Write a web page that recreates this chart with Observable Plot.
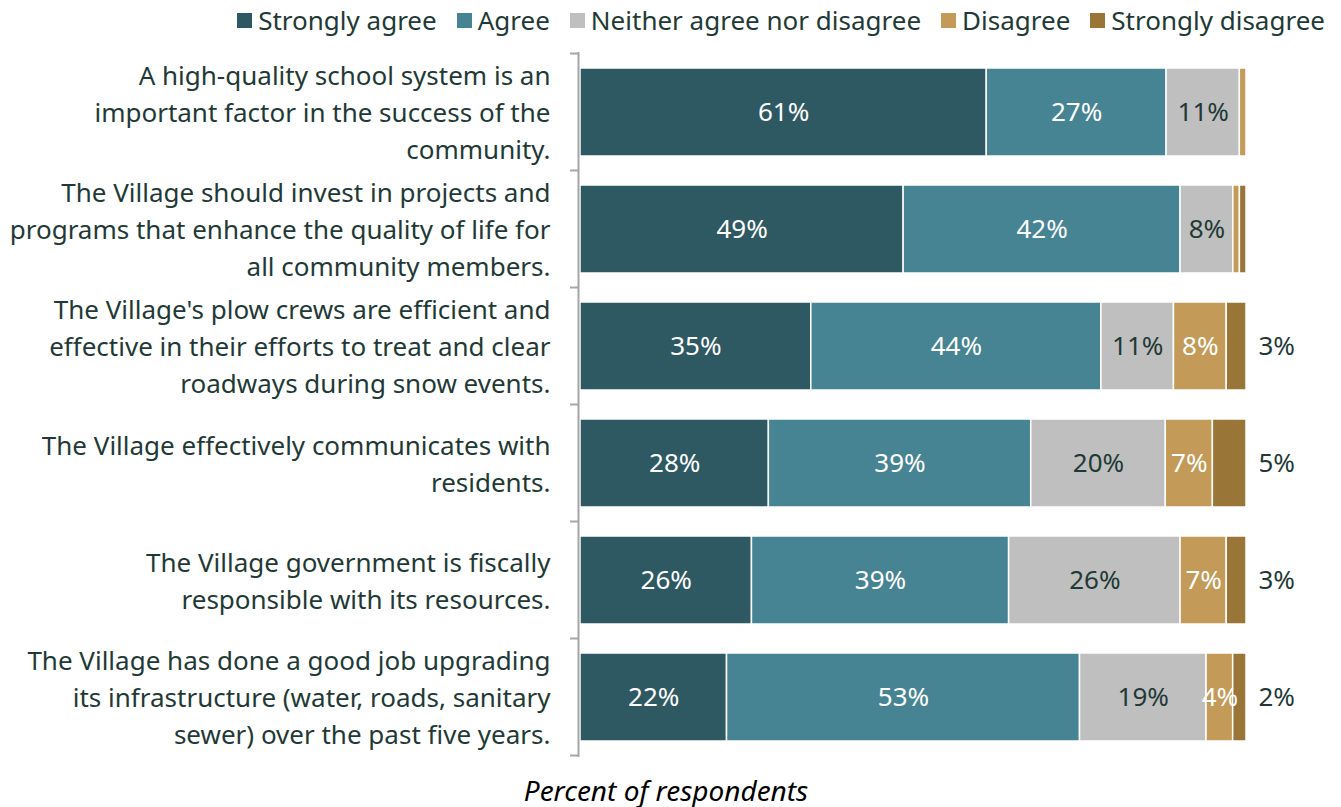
<!DOCTYPE html>
<html><head><meta charset="utf-8">
<script src="https://cdn.jsdelivr.net/npm/d3@7"></script>
<script src="https://cdn.jsdelivr.net/npm/@observablehq/plot@0.6"></script>
<style>
body{margin:0;background:#fff;font-family:"Noto Sans",sans-serif;color:#1f3a36;width:1341px;height:807px;overflow:hidden;position:relative}
#legend{height:40px;display:flex;justify-content:flex-end;align-items:center;padding-right:16px;font-size:26px;gap:20px}
.item{display:flex;align-items:center;gap:6px}
.sw{width:15px;height:15px;display:inline-block}
#caption{position:absolute;left:0;top:772px;width:1332px;text-align:center;font-style:italic;font-size:28px;line-height:36px;color:#000}
</style></head><body>
<div id="legend"></div><div id="chart"></div><div id="caption">Percent of respondents</div>
<script>
const statements = [
  "A high-quality school system is an important factor in the success of the community.",
  "The Village should invest in projects and programs that enhance the quality of life for all community members.",
  "The Village's plow crews are efficient and effective in their efforts to treat and clear roadways during snow events.",
  "The Village effectively communicates with residents.",
  "The Village government is fiscally responsible with its resources.",
  "The Village has done a good job upgrading its infrastructure (water, roads, sanitary sewer) over the past five years."
];
const labelLines = [
  "A high-quality school system is an\nimportant factor in the success of the\ncommunity.",
  "The Village should invest in projects and\nprograms that enhance the quality of life for\nall community members.",
  "The Village's plow crews are efficient and\neffective in their efforts to treat and clear\nroadways during snow events.",
  "The Village effectively communicates with\nresidents.",
  "The Village government is fiscally\nresponsible with its resources.",
  "The Village has done a good job upgrading\nits infrastructure (water, roads, sanitary\nsewer) over the past five years."
];
const responses = ["Strongly agree","Agree","Neither agree nor disagree","Disagree","Strongly disagree"];
const colors = ["#2f5962","#478493","#bfbfbf","#c39a57","#9a7538"];
const stronglyAgree = [61,49,35,28,26,22];
const agree = [27,42,44,39,39,53];
const neither = [11,8,11,20,26,19];
const disagree = [1,1,8,7,7,4];
const stronglyDisagree = [0,1,3,5,3,2];
const series = [stronglyAgree, agree, neither, disagree, stronglyDisagree];

const rows = [];
statements.forEach((s, i) => responses.forEach((r, j) => rows.push({statement: s, response: r, value: series[j][i]})));

const darkText = "#1f3a36";
const FS = 26;
const lab = (cond) => d => (cond(d.response) && d.value >= 2) ? d.value + "%" : "";
const st = (extra) => ({offset: "normalize", x: "value", y: "statement", z: "response", ...extra});

// legend
const lg = document.getElementById("legend");
responses.forEach((r, j) => {
  const it = document.createElement("div"); it.className = "item";
  const sw = document.createElement("span"); sw.className = "sw"; sw.style.background = colors[j];
  const t = document.createElement("span"); t.textContent = r;
  it.append(sw, t); lg.append(it);
});

const ML = 580;
const chart = Plot.plot({
  width: 1341, height: 740,
  marginLeft: ML, marginRight: 95, marginTop: 12, marginBottom: 23,
  style: {fontFamily: "Noto Sans", fontSize: FS + "px", background: "white"},
  x: {domain: [0, 1], axis: null},
  y: {domain: statements, axis: null, paddingInner: 0.25, paddingOuter: 0.125},
  color: {domain: responses, range: colors},
  marks: [
    Plot.barX(rows, Plot.stackX(st({fill: "response", stroke: "white", strokeWidth: 1.5}))),
    Plot.text(rows, Plot.stackX(st({text: lab(r => r === "Strongly agree" || r === "Agree" || r === "Disagree"), fill: "white", fontSize: FS}))),
    Plot.text(rows, Plot.stackX(st({text: lab(r => r === "Neither agree nor disagree"), fill: darkText, fontSize: FS}))),
    Plot.text(rows, Plot.stackX2(st({text: lab(r => r === "Strongly disagree"), fill: darkText, fontSize: FS, textAnchor: "start", dx: 12}))),
    Plot.text(statements, {y: d => d, frameAnchor: "left", textAnchor: "end", dx: -30, dy: -2, text: (d, i) => labelLines[i], fill: darkText, fontSize: FS, lineHeight: 1.42}),
    Plot.ruleX([0], {stroke: "#a6a6a6", strokeWidth: 2, dx: -2})
  ]
});
document.getElementById("chart").append(chart);

// category boundary ticks on the y axis
const ys = chart.scale("y");
const off = (ys.step - ys.bandwidth) / 2;
const bounds = ys.domain.map(d => ys.apply(d) - off);
bounds.push(ys.apply(ys.domain[ys.domain.length - 1]) + ys.bandwidth + off);
d3.select(chart).append("g").selectAll("line").data(bounds).join("line")
  .attr("x1", ML - 10).attr("x2", ML - 2).attr("y1", d => d).attr("y2", d => d)
  .attr("stroke", "#a6a6a6").attr("stroke-width", 2);
</script></body></html>
